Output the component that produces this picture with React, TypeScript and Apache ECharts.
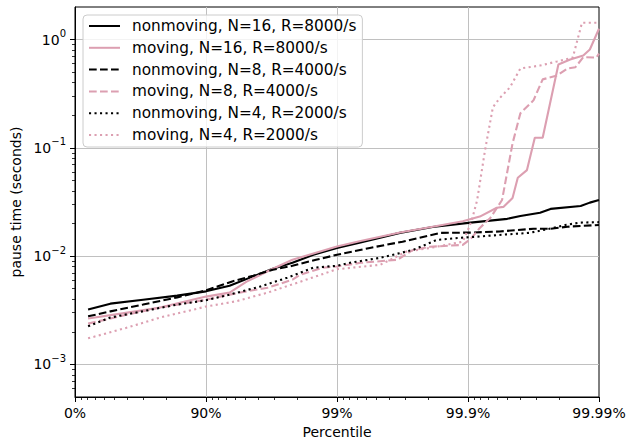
import React, { useEffect, useRef } from "react";
import * as echarts from "echarts";

// x values are "nines": -log10(1 - percentile)
const xTickValues = [0, 1, 2, 3, 4];
const xTickLabels = ["0%", "90%", "99%", "99.9%", "99.99%"];
const yTickExponents = [-3, -2, -1, 0];
const yMinSeconds = 0.0005;
const yMaxSeconds = 2;

const seriesNames = [
  "nonmoving, N=16, R=8000/s",
  "moving, N=16, R=8000/s",
  "nonmoving, N=8, R=4000/s",
  "moving, N=8, R=4000/s",
  "nonmoving, N=4, R=2000/s",
  "moving, N=4, R=2000/s",
];

const nonmoving16: [number, number][] = [
  [0.1, 0.00321], [0.27, 0.00364], [0.52, 0.00396], [0.78, 0.00432], [1.0, 0.00473],
  [1.18, 0.00533], [1.36, 0.0065], [1.51, 0.00765], [1.66, 0.00868], [1.82, 0.0103],
  [2.0, 0.0119], [2.18, 0.0134], [2.48, 0.0164], [2.73, 0.0186], [3.02, 0.0204],
  [3.3, 0.0221], [3.4, 0.0235], [3.55, 0.0252], [3.63, 0.0273], [3.86, 0.029],
  [3.93, 0.0312], [4.0, 0.033],
];
const moving16: [number, number][] = [
  [0.1, 0.00265], [0.4, 0.00301], [0.65, 0.00335], [1.0, 0.00423], [1.18, 0.0046],
  [1.31, 0.00581], [1.51, 0.00765], [1.66, 0.00925], [2.0, 0.0123], [2.18, 0.0138],
  [2.48, 0.0165], [2.73, 0.0187], [2.96, 0.021], [3.09, 0.0232], [3.22, 0.028],
  [3.27, 0.0285], [3.34, 0.0344], [3.38, 0.0529], [3.45, 0.0623], [3.51, 0.124],
  [3.57, 0.124], [3.69, 0.589], [3.78, 0.655], [3.88, 0.713], [3.93, 0.81], [4.0, 1.26],
];
const nonmoving8: [number, number][] = [
  [0.1, 0.00278], [0.27, 0.00309], [0.52, 0.00357], [0.78, 0.00416], [1.0, 0.00483],
  [1.2, 0.00584], [1.36, 0.00659], [1.51, 0.00748], [1.66, 0.00815], [1.84, 0.00925],
  [2.0, 0.0103], [2.25, 0.0119], [2.5, 0.0136], [2.79, 0.0164], [3.02, 0.0165],
  [3.24, 0.0169], [3.5, 0.0179], [3.63, 0.0179], [3.76, 0.0187], [4.0, 0.0194],
];
const moving8: [number, number][] = [
  [0.1, 0.00238], [0.4, 0.00289], [0.65, 0.00335], [1.0, 0.00396], [1.18, 0.00441],
  [1.31, 0.00473], [1.47, 0.00511], [1.66, 0.00606], [1.72, 0.00673], [1.89, 0.00782],
  [2.0, 0.00803], [2.18, 0.00868], [2.46, 0.00925], [2.58, 0.0114], [2.71, 0.0122],
  [2.96, 0.0127], [3.02, 0.0144], [3.09, 0.0182], [3.17, 0.0225], [3.26, 0.033],
  [3.34, 0.11], [3.4, 0.209], [3.5, 0.275], [3.57, 0.429], [3.68, 0.466],
  [3.76, 0.541], [3.82, 0.556], [3.88, 0.687], [3.98, 0.683], [4.0, 0.743],
];
const nonmoving4: [number, number][] = [
  [0.1, 0.00225], [0.27, 0.00271], [0.52, 0.0031], [0.78, 0.00357], [1.0, 0.00391],
  [1.18, 0.00441], [1.41, 0.00522], [1.62, 0.00632], [1.82, 0.00782], [2.0, 0.00815],
  [2.1, 0.00868], [2.33, 0.00966], [2.58, 0.0114], [2.76, 0.0141], [2.92, 0.0147],
  [3.09, 0.0152], [3.24, 0.0157], [3.47, 0.0164], [3.63, 0.018], [3.75, 0.0195],
  [3.86, 0.0204], [4.0, 0.0206],
];
const moving4: [number, number][] = [
  [0.1, 0.00174], [0.4, 0.00219], [0.65, 0.00271], [1.0, 0.00342], [1.23, 0.00383],
  [1.47, 0.0046], [1.72, 0.00581], [2.0, 0.00757], [2.33, 0.00832], [2.53, 0.011],
  [2.71, 0.0119], [2.96, 0.0136], [3.0, 0.0175], [3.03, 0.0216], [3.07, 0.033],
  [3.13, 0.0952], [3.19, 0.237], [3.24, 0.286], [3.32, 0.362], [3.4, 0.541],
  [3.55, 0.576], [3.68, 0.628], [3.8, 0.683], [3.87, 1.43], [4.0, 1.43],
];

const seriesData = [nonmoving16, moving16, nonmoving8, moving8, nonmoving4, moving4];
const seriesColors = ["#000000", "#dc9fb1", "#000000", "#dc9fb1", "#000000", "#dc9fb1"];
const DASHED = [7.7, 3.3];
const DOTTED = [2.1, 3.4];
const seriesDash: any[] = ["solid", "solid", DASHED, DASHED, DOTTED, DOTTED];

const FONT = "DejaVu Sans";

export default function App() {
  const ref = useRef<HTMLDivElement>(null);
  useEffect(() => {
    const chart = echarts.init(ref.current!, null, { renderer: "svg" });
    const yLo = Math.log10(yMinSeconds);
    const yHi = Math.log10(yMaxSeconds);
    const xMinor: number[] = [];
    for (let k = 0; k < 4; k++) {
      for (let m = 1; m <= 8; m++) xMinor.push(k - Math.log10(1 - m / 10));
    }
    const yMinor: number[] = [];
    for (let k = -4; k <= 0; k++) {
      for (let m = 2; m <= 9; m++) {
        const v = Math.log10(m) + k;
        if (v > yLo + 1e-6 && v < yHi - 1e-6) yMinor.push(v);
      }
    }
    const fmtExp = (e: number) => (e < 0 ? "\u2212" + Math.abs(e) : String(e));
    const option: any = {
      animation: false,
      textStyle: { fontFamily: FONT },
      grid: {
        left: 75, right: 30, top: 7, bottom: 46,
        show: true, borderColor: "#000", borderWidth: 1, backgroundColor: "transparent",
      },
      legend: {
        orient: "vertical",
        left: 83,
        top: 15,
        padding: [3, 6, 4, 5],
        itemWidth: 31,
        itemHeight: 14,
        itemGap: 5.8,
        backgroundColor: "rgba(255,255,255,0.8)",
        borderColor: "#cccccc",
        borderWidth: 1,
        borderRadius: 4,
        itemStyle: { opacity: 0 },
        textStyle: { fontFamily: FONT, fontSize: 15.3, color: "#000", padding: [0, 0, 0, 7], lineHeight: 16 },
        data: seriesNames,
      },
      xAxis: [
        {
          type: "value", min: 0, max: 4, interval: 1, position: "bottom",
          name: "Percentile", nameLocation: "middle", nameGap: 28,
          nameTextStyle: { fontFamily: FONT, fontSize: 14, color: "#000" },
          axisLine: { show: true, onZero: false, lineStyle: { color: "#000", width: 1 } },
          axisTick: { show: true, length: 5, lineStyle: { color: "#000", width: 1 } },
          axisLabel: {
            margin: 9, fontFamily: FONT, fontSize: 14, color: "#000",
            formatter: (v: number) => {
              const i = xTickValues.indexOf(Math.round(v));
              return i >= 0 ? xTickLabels[i] : "";
            },
          },
          splitLine: { show: true, showMinLine: false, showMaxLine: false, lineStyle: { color: "#c0c0c0", width: 1 } },
        },
        {
          type: "value", min: 0, max: 4, position: "bottom",
          axisLine: { show: false, onZero: false },
          axisTick: { show: true, length: 3, customValues: xMinor, lineStyle: { color: "#000", width: 0.8 } },
          axisLabel: { show: false },
          splitLine: { show: false },
        },
      ],
      yAxis: [
        {
          type: "value", min: yLo, max: yHi, position: "left",
          name: "pause time (seconds)", nameLocation: "middle", nameGap: 46, nameRotate: 90,
          nameTextStyle: { fontFamily: FONT, fontSize: 14, color: "#000" },
          axisLine: { show: true, onZero: false, lineStyle: { color: "#000", width: 1 } },
          axisTick: { show: true, length: 5, customValues: yTickExponents, lineStyle: { color: "#000", width: 1 } },
          axisLabel: {
            show: true, margin: 9, customValues: yTickExponents,
            formatter: (v: number) => `{b|10}{s|${fmtExp(Math.round(v))}}`,
            rich: {
              b: { fontFamily: FONT, fontSize: 14, color: "#000" },
              s: { fontFamily: FONT, fontSize: 10, color: "#000", padding: [0, 0, 12, 0] },
            },
          },
          splitLine: { show: true, lineStyle: { color: "#c0c0c0", width: 1 } },
        },
        {
          type: "value", min: yLo, max: yHi, position: "left",
          axisLine: { show: false, onZero: false },
          axisTick: { show: true, length: 3, customValues: yMinor, lineStyle: { color: "#000", width: 0.8 } },
          axisLabel: { show: false },
          splitLine: { show: false },
        },
      ],
      series: seriesNames.map((name, i) => ({
        name,
        type: "line",
        xAxisIndex: 0,
        yAxisIndex: 0,
        symbol: "none",
        smooth: false,
        color: seriesColors[i],
        lineStyle: { color: seriesColors[i], width: 2.1, type: seriesDash[i], cap: "butt" },
        data: seriesData[i].map(([x, y]) => [x, Math.log10(y)]),
      })),
    };
    chart.setOption(option);
    return () => chart.dispose();
  }, []);
  return <div ref={ref} style={{ position: "absolute", left: 0, top: 0, width: 629, height: 444 }} />;
}
